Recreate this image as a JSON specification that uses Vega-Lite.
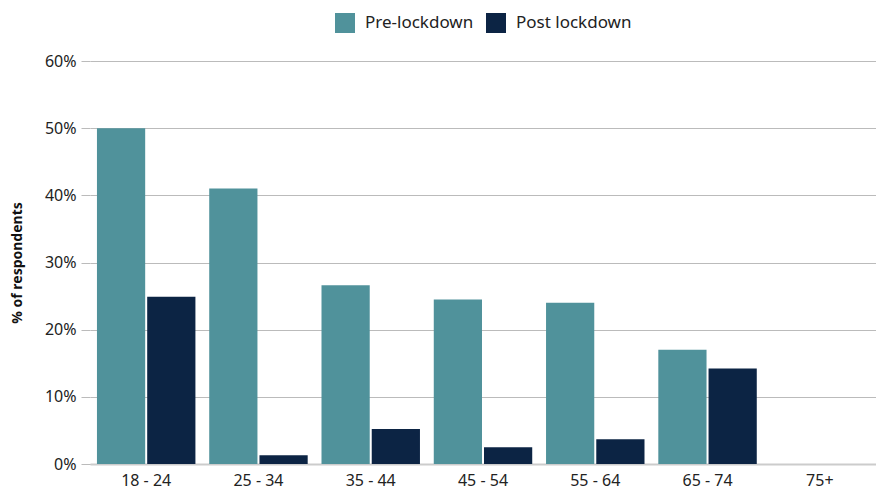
{
  "$schema": "https://vega.github.io/schema/vega-lite/v6.json",
  "width": 876,
  "height": 490,
  "autosize": {"type": "fit", "contains": "padding"},
  "padding": {"left": 10, "right": 0, "top": 13, "bottom": 2},
  "config": {
    "view": {"stroke": null},
    "font": "Noto Sans",
    "legend": {"layout": {"top": {"anchor": "middle"}}}
  },
  "data": {
    "values": [
      {"age": "18 - 24", "period": "Pre-lockdown", "value": 0.50},
      {"age": "18 - 24", "period": "Post lockdown", "value": 0.249},
      {"age": "25 - 34", "period": "Pre-lockdown", "value": 0.41},
      {"age": "25 - 34", "period": "Post lockdown", "value": 0.013},
      {"age": "35 - 44", "period": "Pre-lockdown", "value": 0.266},
      {"age": "35 - 44", "period": "Post lockdown", "value": 0.052},
      {"age": "45 - 54", "period": "Pre-lockdown", "value": 0.245},
      {"age": "45 - 54", "period": "Post lockdown", "value": 0.025},
      {"age": "55 - 64", "period": "Pre-lockdown", "value": 0.240},
      {"age": "55 - 64", "period": "Post lockdown", "value": 0.037},
      {"age": "65 - 74", "period": "Pre-lockdown", "value": 0.170},
      {"age": "65 - 74", "period": "Post lockdown", "value": 0.142},
      {"age": "75+", "period": "Pre-lockdown", "value": 0},
      {"age": "75+", "period": "Post lockdown", "value": 0}
    ]
  },
  "mark": {"type": "bar"},
  "encoding": {
    "x": {
      "field": "age",
      "type": "nominal",
      "sort": null,
      "scale": {"paddingInner": 0.123, "paddingOuter": 0.062},
      "axis": {
        "title": null,
        "labelAngle": 0,
        "labelFontSize": 16,
        "labelColor": "#222222",
        "labelPadding": 8,
        "ticks": false,
        "domain": true,
        "domainColor": "#cccccc",
        "domainWidth": 2
      }
    },
    "xOffset": {
      "field": "period",
      "type": "nominal",
      "sort": ["Pre-lockdown", "Post lockdown"],
      "scale": {"paddingInner": 0.04}
    },
    "y": {
      "field": "value",
      "type": "quantitative",
      "scale": {"domain": [0, 0.6]},
      "axis": {
        "title": "% of respondents",
        "titleFontSize": 14,
        "titleFontWeight": "bold",
        "titleColor": "#111111",
        "titlePadding": 20,
        "format": ".0%",
        "values": [0, 0.1, 0.2, 0.3, 0.4, 0.5, 0.6],
        "labelOverlap": false,
        "labelFontSize": 16,
        "labelColor": "#222222",
        "labelPadding": 5,
        "domain": false,
        "ticks": true,
        "tickSize": 9,
        "tickColor": "#bbbbbb",
        "gridColor": "#bbbbbb",
        "gridWidth": 1
      }
    },
    "color": {
      "field": "period",
      "type": "nominal",
      "sort": ["Pre-lockdown", "Post lockdown"],
      "scale": {"domain": ["Pre-lockdown", "Post lockdown"], "range": ["#50929b", "#0c2444"]},
      "legend": {
        "title": null,
        "orient": "top",
        "direction": "horizontal",
        "symbolType": "square",
        "symbolSize": 400,
        "symbolStrokeWidth": 0,
        "labelFontSize": 17,
        "labelColor": "#222222",
        "columnPadding": 12,
        "labelOffset": 10,
        "offset": 28
      }
    }
  }
}
